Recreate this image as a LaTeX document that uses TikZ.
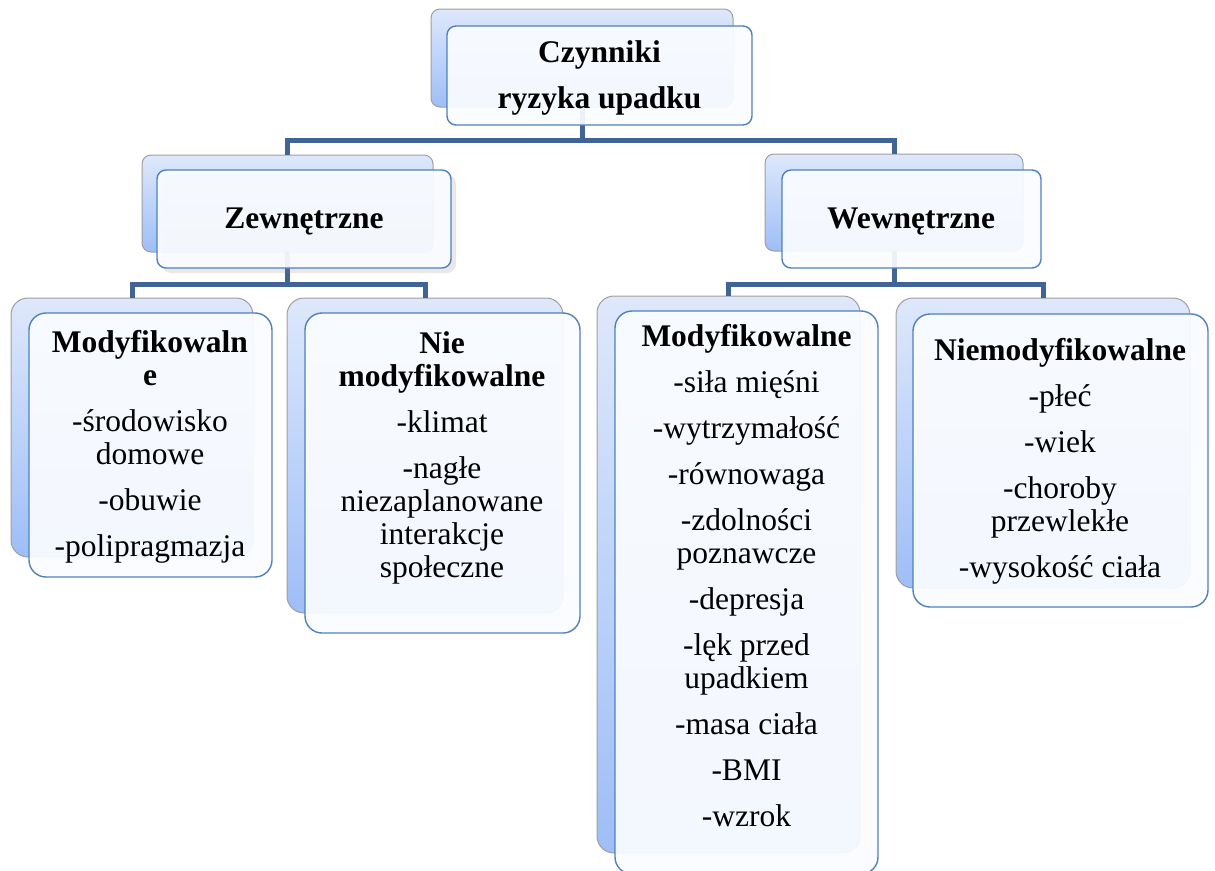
\documentclass[tikz,border=0pt]{standalone}
\usepackage{fontspec}
\setmainfont{Liberation Serif}
\usetikzlibrary{fit,shadows}
\definecolor{connc}{RGB}{64,100,150}
\definecolor{frontline}{RGB}{79,129,189}
\definecolor{backtop}{RGB}{222,232,251}
\definecolor{backbot}{RGB}{158,190,247}
\definecolor{frontfill}{RGB}{250,252,255}
\tikzset{
  conn/.style={draw=connc, line width=5pt, line join=miter},
  backcard/.style={draw=gray!75, line width=1pt, top color=backtop, bottom color=backbot, inner sep=0pt, outer sep=0pt},
  frontcard/.style={draw=frontline, line width=1.4pt, fill=frontfill, fill opacity=0.93, inner sep=0pt, outer sep=0pt},
  small/.style={rounded corners=9pt},
  big/.style={rounded corners=17pt},
  label/.style={anchor=north, align=center, inner sep=0pt, font=\fontsize{31.5}{33}\selectfont},
}
\begin{document}
\begin{tikzpicture}[x=1pt,y=-1pt]
\useasboundingbox[fill=white] (0,0) rectangle (1215,870);
% junctions
\coordinate (j1) at (582,140);
\coordinate (j2) at (287.5,284);
\coordinate (j3) at (894,284);
% back cards
\node[backcard, small, fit={(431,9) (733,107)}] (topB) {};
\node[backcard, small, fit={(142,155) (433,252)}] (zB) {};
\node[backcard, small, fit={(765,154) (1023,251)}] (wB) {};
\node[backcard, big, fit={(11,298) (253,557)}] (lmB) {};
\node[backcard, big, fit={(287,298) (563,613)}] (nmB) {};
\node[backcard, big, fit={(597,296) (860,853)}] (rmB) {};
\node[backcard, big, fit={(896,298) (1190,588)}] (niB) {};
% connectors
\draw[conn] (topB.south) -- (j1) -| (zB.north);
\draw[conn] (j1) -| (wB.north);
\draw[conn] (zB.south) -- (j2) -| (lmB.north);
\draw[conn] (j2) -| (nmB.north);
\draw[conn] (wB.south) -- (j3) -| (rmB.north);
\draw[conn] (j3) -| (niB.north);
% front cards
\node[frontcard, small, fit={(447,26) (752,125)}] (topF) {};
\node[frontcard, small, drop shadow={shadow xshift=5pt, shadow yshift=-5pt, opacity=0.18}, fit={(157,170) (451,268)}] (zF) {};
\node[frontcard, small, fit={(782,170) (1041,268)}] (wF) {};
\node[frontcard, big, fit={(29,313) (272,577)}] (lmF) {};
\node[frontcard, big, fit={(305,313) (580,633)}] (nmF) {};
\node[frontcard, big, fit={(615,311) (878,874)}] (rmF) {};
\node[frontcard, big, fit={(913,314) (1208,607)}] (niF) {};
% texts
\node[label] (topT) at (599.5,38.9) {\strut\textbf{Czynniki}\\[13pt]\textbf{ryzyka upadku}};
\node[label] (zT) at (304,204.9) {\strut\textbf{Zewnętrzne}};
\node[label] (wT) at (911,204.9) {\strut\textbf{Wewnętrzne}};
\node[label] (lmT) at (150,328.9) {\strut\textbf{Modyfikowaln}\\\textbf{e}\\[13pt]-środowisko\\domowe\\[13pt]-obuwie\\[13pt]-polipragmazja};
\node[label] (nmT) at (442,329.9) {\strut\textbf{Nie}\\\textbf{modyfikowalne}\\[13pt]-klimat\\[13pt]-nagłe\\niezaplanowane\\interakcje\\społeczne};
\node[label] (rmT) at (746.5,322.9) {\strut\textbf{Modyfikowalne}\\[13pt]-siła mięśni\\[13pt]-wytrzymałość\\[13pt]-równowaga\\[13pt]-zdolności\\poznawcze\\[13pt]-depresja\\[13pt]-lęk przed\\upadkiem\\[13pt]-masa ciała\\[13pt]-BMI\\[13pt]-wzrok};
\node[label] (niT) at (1060,336.9) {\strut\textbf{Niemodyfikowalne}\\[13pt]-płeć\\[13pt]-wiek\\[13pt]-choroby\\przewlekłe\\[13pt]-wysokość ciała};
\end{tikzpicture}
\end{document}
